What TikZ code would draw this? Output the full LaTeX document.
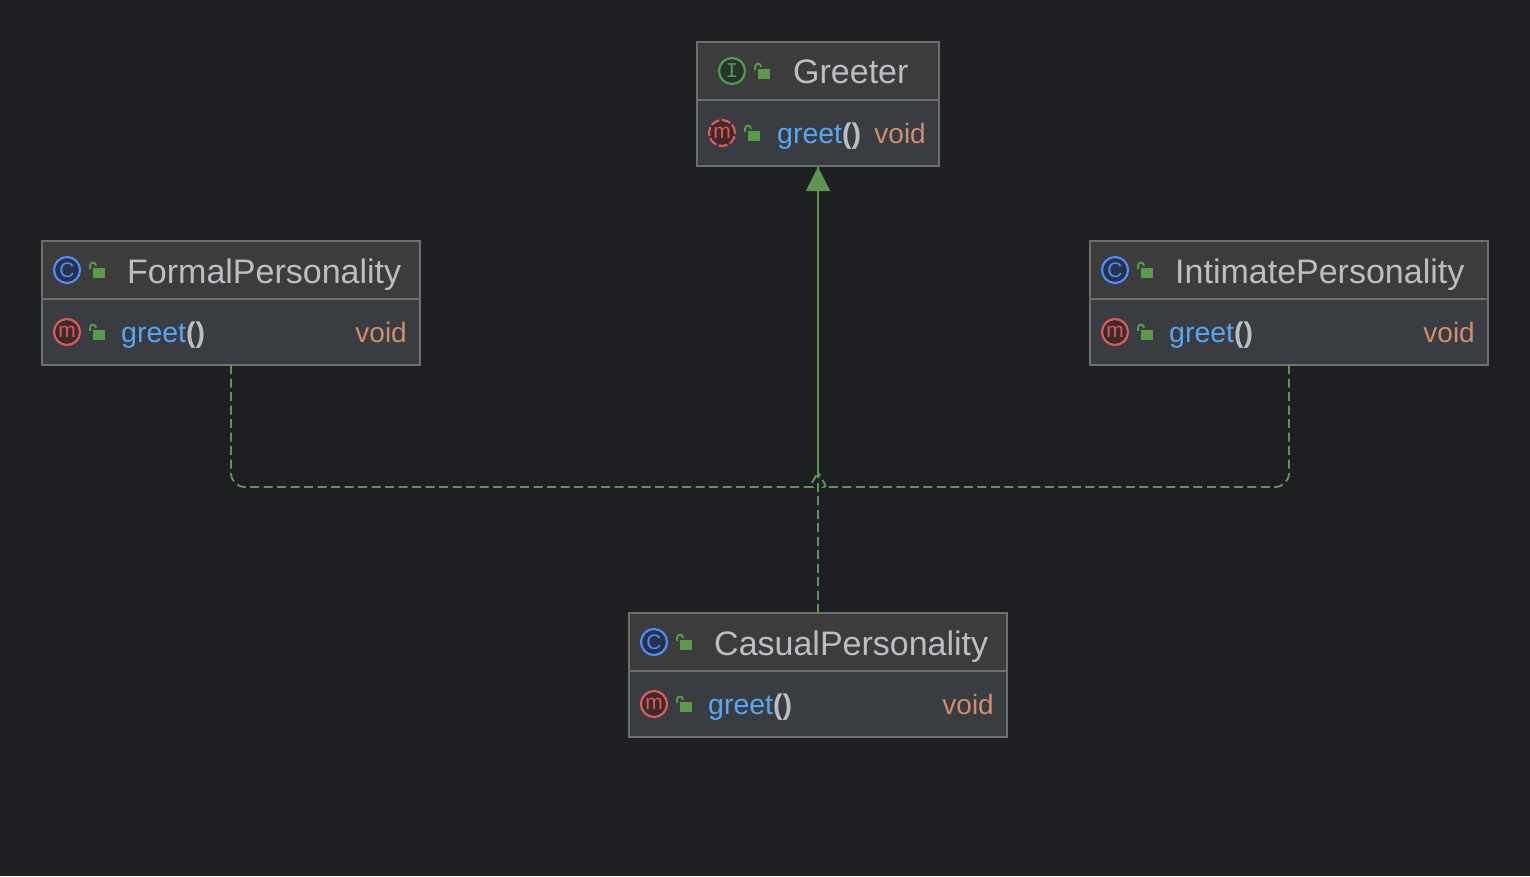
\documentclass[tikz,border=0pt]{standalone}
\usepackage{fontspec}
\setmainfont{Liberation Sans}
\setmonofont{Liberation Mono}
\usetikzlibrary{positioning,arrows.meta}
\definecolor{canvas}{HTML}{1E1F22}
\definecolor{headfill}{HTML}{3C3C3C}
\definecolor{bodyfill}{HTML}{393C40}
\definecolor{edgegrey}{HTML}{6F6F6F}
\definecolor{textgrey}{HTML}{BCBEC4}
\definecolor{methodblue}{HTML}{56A8F5}
\definecolor{typeorange}{HTML}{CF8E6D}
\definecolor{lockgreen}{HTML}{5A9A4A}
\definecolor{linegreen}{HTML}{5C9650}
\definecolor{classring}{HTML}{548AF7}
\definecolor{classcore}{HTML}{25324D}
\definecolor{methodring}{HTML}{DB5C5C}
\definecolor{methodcore}{HTML}{402929}
\definecolor{facering}{HTML}{57965C}
\definecolor{facecore}{HTML}{253627}
\tikzset{
  headbox/.style={draw=edgegrey,fill=headfill,line width=1.5pt,minimum height=58pt,inner sep=0pt,outer sep=0pt},
  bodybox/.style={draw=edgegrey,fill=bodyfill,line width=1.5pt,minimum height=66pt,inner sep=0pt,outer sep=0pt},
  titletext/.style={anchor=base west,text=textgrey,inner sep=0pt,font=\fontsize{34}{34}\selectfont},
  methodtext/.style={anchor=base west,text=methodblue,inner sep=0pt,font=\fontsize{28.5}{28.5}\selectfont},
  typetext/.style={anchor=base east,text=typeorange,inner sep=0pt,font=\fontsize{28}{28}\selectfont},
  iconring/.style={circle,minimum size=26pt,inner sep=0pt,line width=2.2pt,font=\fontsize{21}{21}\selectfont},
  classicon/.style={iconring,draw=classring,fill=classcore,text=classring},
  methodicon/.style={iconring,draw=methodring,fill=methodcore,text=methodring},
  faceicon/.style={iconring,draw=facering,fill=facecore,text=facering},
  realizes/.style={draw=linegreen,line width=1.9pt,dash pattern=on 9pt off 4.5pt},
  padlock/.pic={
    \fill[lockgreen] (-6,-5) rectangle (6,5);
    \draw[lockgreen,line width=2pt] (-9,-4) -- (-9,-7) .. controls (-9,-11.5) and (-3,-11.5) .. (-3,-7);
  }
}
\newcommand{\parens}{\textcolor{textgrey}{\bfseries()}}
\begin{document}
\begin{tikzpicture}[x=1pt,y=-1pt]
  \fill[canvas] (0,0) rectangle (1530,876);
  \useasboundingbox (0,0) rectangle (1530,876);
  % the interface
  \node[headbox,minimum width=242pt,anchor=north west] (greeterhead) at (697,42) {};
  \node[bodybox,minimum width=242pt,below=0pt of greeterhead] (greeter) {};
  \node[faceicon] (greetericon) at (732,71) {\ttfamily I};
  \pic at (764,74) {padlock};
  \node[titletext] (greetertitle) at (793,83) {Greeter};
  \node[methodicon,dash pattern=on 9pt off 2.5pt] (greetermethod) at (722,133) {m};
  \pic at (754,136) {padlock};
  \node[methodtext] (greetergreet) at (777,143) {greet\parens};
  \node[typetext] (greetervoid) at (926,143) {void};
  % the classes
  \foreach \n/\x/\y/\w/\t in {formal/42/241/378/FormalPersonality,intimate/1090/241/398/IntimatePersonality,casual/629/613/378/CasualPersonality} {
    \node[headbox,minimum width=\w pt,anchor=north west] (\n head) at (\x,\y) {};
    \node[bodybox,minimum width=\w pt,below=0pt of \n head] (\n) {};
    \node[classicon] (\n icon) at (\x+25,\y+29) {C};
    \pic at (\x+57,\y+32) {padlock};
    \node[titletext] (\n title) at (\x+85,\y+42) {\t};
    \node[methodicon] (\n method) at (\x+25,\y+91) {m};
    \pic at (\x+57,\y+94) {padlock};
    \node[methodtext] (\n greet) at (\x+79,\y+101) {greet\parens};
    \node[typetext] (\n void) at (\x+\w-13,\y+101) {void};
  }
  % the connectors
  \coordinate (hub) at (818,472);
  \coordinate (hubleft) at (798,487);
  \coordinate (hubright) at (838,487);
  \draw[realizes,shorten >=1pt] [rounded corners=14pt] (formal.south) |- (hubleft) [sharp corners] to[out=0,in=-115] (hub) -- (greeter.south);
  \draw[realizes,shorten >=1pt] [rounded corners=14pt] (intimate.south) |- (hubright) [sharp corners] to[out=180,in=-65] (hub) -- (greeter.south);
  \draw[realizes,shorten >=1pt,-{Triangle[length=24pt,width=24pt]},fill=linegreen] (casualhead.north) -- (greeter.south);
\end{tikzpicture}
\end{document}
